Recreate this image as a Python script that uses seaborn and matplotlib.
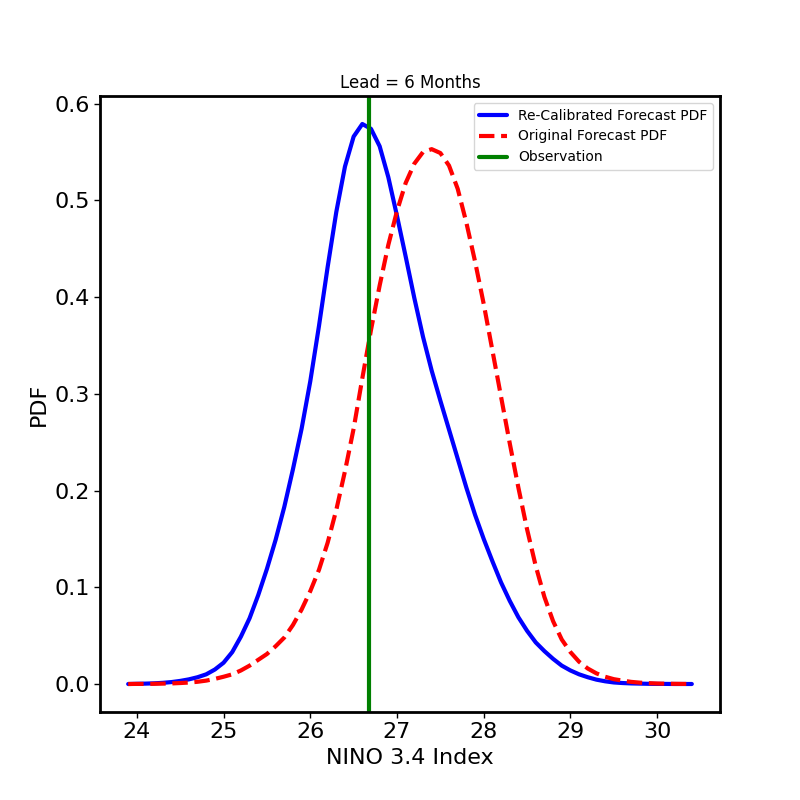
import matplotlib
matplotlib.use('Agg')
import matplotlib.pyplot as plt
import seaborn as sns

# NINO 3.4 index grid shared by both curves
nino = [23.9, 24.0, 24.1, 24.2, 24.3, 24.4, 24.5, 24.6, 24.7, 24.8, 24.9,
        25.0, 25.1, 25.2, 25.3, 25.4, 25.5, 25.6, 25.7, 25.8, 25.9,
        26.0, 26.1, 26.2, 26.3, 26.4, 26.5, 26.6, 26.7, 26.8, 26.9,
        27.0, 27.1, 27.2, 27.3, 27.4, 27.5, 27.6, 27.7, 27.8, 27.9,
        28.0, 28.1, 28.2, 28.3, 28.4, 28.5, 28.6, 28.7, 28.8, 28.9,
        29.0, 29.1, 29.2, 29.3, 29.4, 29.5, 29.6, 29.7, 29.8, 29.9,
        30.0, 30.1, 30.2, 30.3, 30.4]

recal_pdf = [0.0000, 0.0002, 0.0004, 0.0007, 0.0012, 0.0020, 0.0032, 0.0048, 0.0070, 0.010, 0.015,
             0.022, 0.033, 0.049, 0.068, 0.092, 0.119, 0.149, 0.183, 0.222, 0.264,
             0.313, 0.370, 0.431, 0.488, 0.535, 0.566, 0.579, 0.574, 0.556, 0.524,
             0.484, 0.442, 0.399, 0.359, 0.324, 0.293, 0.263, 0.233, 0.203, 0.175,
             0.150, 0.127, 0.105, 0.086, 0.069, 0.055, 0.043, 0.034, 0.026, 0.019,
             0.014, 0.010, 0.007, 0.0045, 0.0028, 0.0016, 0.0010, 0.0006, 0.0004, 0.0002,
             0.0001, 0.0001, 0.0000, 0.0000, 0.0000]

orig_pdf = [0.0000, 0.0001, 0.0001, 0.0002, 0.0004, 0.0006, 0.0010, 0.0015, 0.0023, 0.0035, 0.0053,
            0.0075, 0.010, 0.014, 0.019, 0.025, 0.031, 0.039, 0.048, 0.061, 0.077,
            0.096, 0.118, 0.146, 0.180, 0.220, 0.264, 0.316, 0.366, 0.412, 0.454,
            0.489, 0.518, 0.538, 0.550, 0.553, 0.549, 0.536, 0.512, 0.477, 0.437,
            0.393, 0.345, 0.297, 0.249, 0.203, 0.160, 0.122, 0.090, 0.065, 0.046,
            0.033, 0.023, 0.016, 0.011, 0.0075, 0.005, 0.0035, 0.0022, 0.0014, 0.0009,
            0.0005, 0.0003, 0.0002, 0.0001, 0.0000]

observation = 26.68

sns.set_style('white')
plt.rcParams['font.family'] = ['DejaVu Sans']
plt.rcParams['text.color'] = 'black'
plt.rcParams['axes.labelcolor'] = 'black'
plt.rcParams['xtick.color'] = 'black'
plt.rcParams['ytick.color'] = 'black'

fig, ax = plt.subplots(figsize=(8, 8), dpi=100)

sns.lineplot(x=nino, y=recal_pdf, ax=ax, color='blue', linewidth=3,
             label='Re-Calibrated Forecast PDF')
sns.lineplot(x=nino, y=orig_pdf, ax=ax, color='red', linewidth=3,
             linestyle='--', label='Original Forecast PDF')
ax.axvline(observation, color='green', linewidth=3, label='Observation')

ax.set_title('Lead = 6 Months', fontsize=12)
ax.set_xlabel('NINO 3.4 Index', fontsize=16)
ax.set_ylabel('PDF', fontsize=16)
ax.set_yticks([0.0, 0.1, 0.2, 0.3, 0.4, 0.5, 0.6])
ax.tick_params(axis='both', labelsize=16, direction='out', length=4,
               width=1, bottom=True, left=True, colors='black')

for sp in ax.spines.values():
    sp.set_visible(True)
    sp.set_color('black')
    sp.set_linewidth(2)

ax.legend(loc='upper right', fontsize=10, frameon=True, handlelength=2)

fig.subplots_adjust(left=0.125, right=0.9, bottom=0.11, top=0.88)
fig.savefig('out.png', dpi=100)
